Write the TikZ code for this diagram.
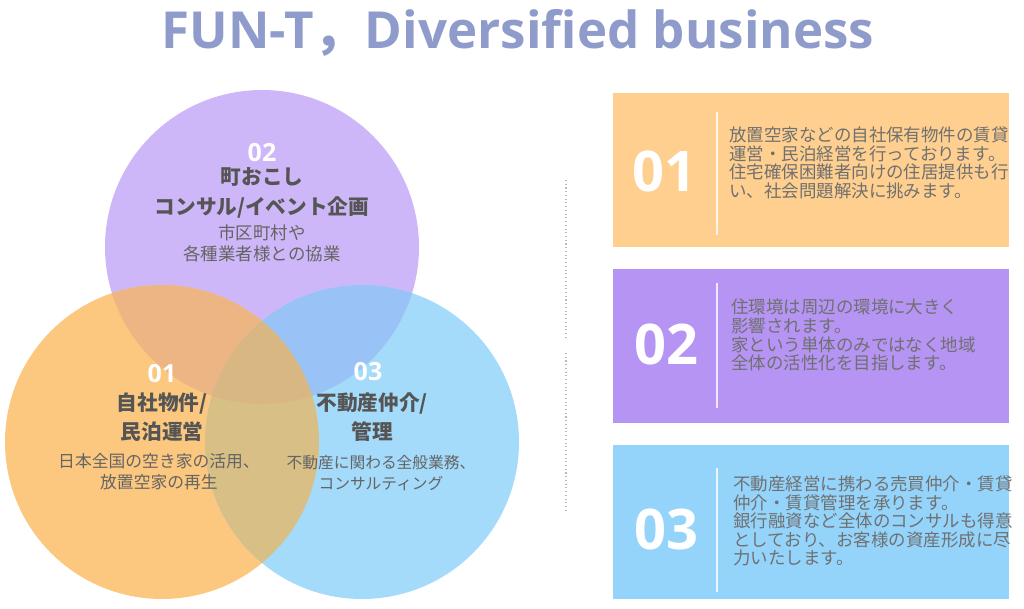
\documentclass[tikz,border=0pt]{standalone}
\usepackage{fontspec}
\setmainfont{Noto Sans CJK JP}
\newfontfamily\latinfont{Open Sans}
\usepackage{tikz}
\usetikzlibrary{positioning}
\definecolor{titlec}{RGB}{143,156,203}
\definecolor{purplec}{RGB}{206,183,248}
\definecolor{orangec}{RGB}{252,200,128}
\definecolor{bluec}{RGB}{164,218,250}
\definecolor{opc}{RGB}{237,181,132}
\definecolor{pbc}{RGB}{153,195,247}
\definecolor{obc}{RGB}{216,191,134}
\definecolor{allc}{RGB}{217,183,131}
\definecolor{panelone}{RGB}{254,207,143}
\definecolor{paneltwo}{RGB}{181,148,244}
\definecolor{panelthree}{RGB}{148,212,251}
\definecolor{headgray}{RGB}{85,85,85}
\definecolor{bodygray}{RGB}{100,100,100}
\definecolor{panelgray}{RGB}{112,112,112}
\tikzset{%
  every node/.style={inner sep=0pt},
  title/.style={text=titlec, anchor=base,
    font=\latinfont\bfseries\fontsize{38.3pt}{42pt}\selectfont},
  circnum/.style={text=white,
    font=\latinfont\bfseries\fontsize{18.75pt}{20pt}\selectfont},
  circhead/.style={text=headgray, align=center,
    font=\bfseries\fontsize{15.5pt}{22pt}\selectfont},
  circbody/.style={text=bodygray, align=center,
    font=\fontsize{#1}{15.75pt}\selectfont},
  circbody/.default=12.6pt,
  panel/.style={minimum width=297pt, minimum height=115.5pt},
  panelnum/.style={text=white,
    font=\latinfont\bfseries\fontsize{42pt}{44pt}\selectfont},
  paneltext/.style={text=panelgray, anchor=base west, text width=270pt,
    align=left, font=\fontsize{13.1pt}{13.9pt}\selectfont},
  divider/.style={white, line width=1pt, opacity=.8},
  guide/.style={gray!55, dotted, line width=.8pt}
}

\begin{document}
\begin{tikzpicture}
    \tikzset{x=0.75pt, y=-0.75pt}
    \useasboundingbox (0,0) rectangle (1024,609);

    \node[title] (ttl) at (518,48.5) {FUN-T{\rmfamily\bfseries ，}Diversified business};

    % the three circles
    \coordinate (cP) at (262,247);
    \coordinate (cO) at (162,442);
    \coordinate (cB) at (362,442);
    \fill[purplec] (cP) circle (157);
    \fill[orangec] (cO) circle (157);
    \fill[bluec] (cB) circle (157);
    \begin{scope}
      \clip (cP) circle (157);
      \fill[opc] (cO) circle (157);
      \fill[pbc] (cB) circle (157);
    \end{scope}
    \begin{scope}
      \clip (cO) circle (157);
      \fill[obc] (cB) circle (157);
      \clip (cB) circle (157);
      \fill[allc] (cP) circle (157);
    \end{scope}

    \node[circnum] (n02) at (262,153) {02};
    \node[circhead] (h02) at (262,193) {町おこし\\コンサル/イベント企画};
    \node[circbody=13.1pt] (t02) at (262,243) {市区町村や\\各種業者様との協業};

    \node[circnum] (n01) at (162,374) {01};
    \node[circhead] (h01) at (162,417) {自社物件/\\民泊運営};
    \node[circbody] (t01) at (159,472) {日本全国の空き家の活用、\\放置空家の再生};

    \node[circnum] (n03) at (368,372) {03};
    \node[circhead] (h03) at (372,417) {不動産仲介/\\管理};
    \node[circbody=11.8pt] (t03) at (381,473) {不動産に関わる全般業務、\\コンサルティング};

    % dotted guide
    \coordinate (g1) at (566,180);
    \coordinate (g2) at (566,337);
    \coordinate (g3) at (566,353);
    \coordinate (g4) at (566,513);
    \draw[guide] (g1) -- (g2);
    \draw[guide] (g3) -- (g4);

    % panels
    \node[panel, fill=panelone] (p1) at (811,170) {};
    \node[panel, fill=paneltwo] (p2) at (811,346) {};
    \node[panel, fill=panelthree] (p3) at (811,522) {};

    \node[panelnum] (p1n) at (664,171.5) {01};
    \node[panelnum] (p2n) at (666,344) {02};
    \node[panelnum] (p3n) at (666,529) {03};

    \coordinate (d1a) at (717,112); \coordinate (d1b) at (717,235);
    \coordinate (d2a) at (717,283); \coordinate (d2b) at (717,408);
    \coordinate (d3a) at (717,468); \coordinate (d3b) at (717,592);
    \draw[divider] (d1a) -- (d1b);
    \draw[divider] (d2a) -- (d2b);
    \draw[divider] (d3a) -- (d3b);

    \node[paneltext] (p1t) at (729,141.5) {放置空家などの自社保有物件の賃貸\\運営・民泊経営を行っております。\\住宅確保困難者向けの住居提供も行\\い、社会問題解決に挑みます。};
    \node[paneltext] (p2t) at (731,314) {住環境は周辺の環境に大きく\\影響されます。\\家という単体のみではなく地域\\全体の活性化を目指します。};
    \node[paneltext] (p3t) at (733,490.5) {不動産経営に携わる売買仲介・賃貸\\仲介・賃貸管理を承ります。\\銀行融資など全体のコンサルも得意\\としており、お客様の資産形成に尽\\力いたします。};
\end{tikzpicture}
\end{document}
